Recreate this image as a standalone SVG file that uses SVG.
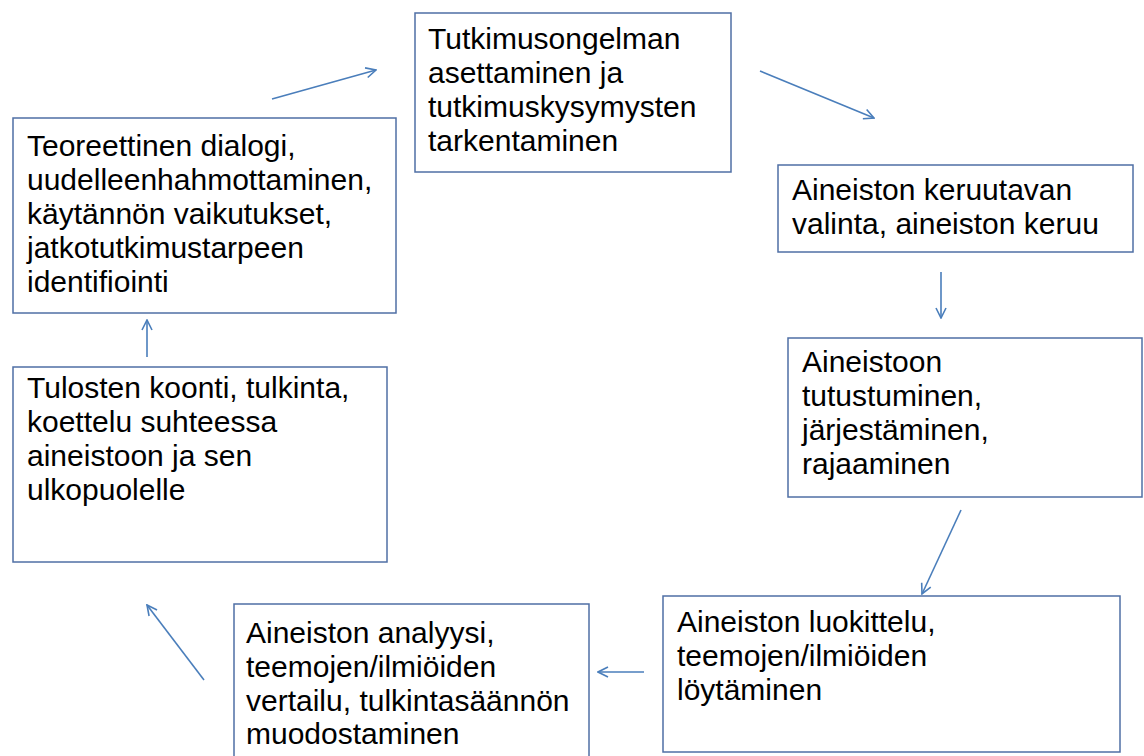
<svg xmlns="http://www.w3.org/2000/svg" width="1144" height="756" viewBox="0 0 1144 756">
<defs>
<style>
.box{fill:#ffffff;stroke:#4F6FA5;stroke-width:1.5}
.t{font-family:"Liberation Sans",Arial,sans-serif;font-size:30px;fill:#000000}
.c{fill:none;stroke:#4A7EBB;stroke-width:1.6}
</style>
<marker id="ah" viewBox="0 0 12 12" refX="11" refY="6" markerWidth="12" markerHeight="12" markerUnits="userSpaceOnUse" orient="auto">
<path d="M1,1 L11,6 L1,11" fill="none" stroke="#4A7EBB" stroke-width="1.6"/>
</marker>
</defs>
<rect width="1144" height="756" fill="#ffffff"/>
<g id="connectors">
<line class="c" x1="272" y1="99" x2="376" y2="70" marker-end="url(#ah)"/>
<line class="c" x1="760" y1="71" x2="874" y2="118" marker-end="url(#ah)"/>
<line class="c" x1="941" y1="272" x2="941" y2="318" marker-end="url(#ah)"/>
<line class="c" x1="961" y1="510" x2="922" y2="594" marker-end="url(#ah)"/>
<line class="c" x1="644" y1="672" x2="598" y2="672" marker-end="url(#ah)"/>
<line class="c" x1="204" y1="680" x2="147" y2="605" marker-end="url(#ah)"/>
<line class="c" x1="147" y1="357" x2="147" y2="320" marker-end="url(#ah)"/>
</g>
<g id="n1">
<rect class="box" x="415" y="13" width="316" height="159"/>
<text class="t" x="428" y="49">Tutkimusongelman</text>
<text class="t" x="428" y="83">asettaminen ja</text>
<text class="t" x="428" y="117">tutkimuskysymysten</text>
<text class="t" x="428" y="151">tarkentaminen</text>
</g>
<g id="n2">
<rect class="box" x="778" y="165" width="355" height="87"/>
<text class="t" x="792" y="200">Aineiston keruutavan</text>
<text class="t" x="792" y="234">valinta, aineiston keruu</text>
</g>
<g id="n3">
<rect class="box" x="788" y="338" width="354" height="159"/>
<text class="t" x="802" y="372">Aineistoon</text>
<text class="t" x="802" y="406">tutustuminen,</text>
<text class="t" x="802" y="440">järjestäminen,</text>
<text class="t" x="802" y="474">rajaaminen</text>
</g>
<g id="n4">
<rect class="box" x="663" y="596" width="457" height="156"/>
<text class="t" x="677" y="632">Aineiston luokittelu,</text>
<text class="t" x="677" y="666">teemojen/ilmiöiden</text>
<text class="t" x="677" y="700">löytäminen</text>
</g>
<g id="n5">
<rect class="box" x="234" y="604" width="355" height="160"/>
<text class="t" x="246" y="643">Aineiston analyysi,</text>
<text class="t" x="246" y="677">teemojen/ilmiöiden</text>
<text class="t" x="246" y="711">vertailu, tulkintasäännön</text>
<text class="t" x="246" y="744">muodostaminen</text>
</g>
<g id="n6">
<rect class="box" x="13" y="367" width="374" height="195"/>
<text class="t" x="27" y="398">Tulosten koonti, tulkinta,</text>
<text class="t" x="27" y="432">koettelu suhteessa</text>
<text class="t" x="27" y="466">aineistoon ja sen</text>
<text class="t" x="27" y="500">ulkopuolelle</text>
</g>
<g id="n7">
<rect class="box" x="13" y="118" width="383" height="195"/>
<text class="t" x="27" y="156">Teoreettinen dialogi,</text>
<text class="t" x="27" y="190">uudelleenhahmottaminen,</text>
<text class="t" x="27" y="224">käytännön vaikutukset,</text>
<text class="t" x="27" y="258">jatkotutkimustarpeen</text>
<text class="t" x="27" y="292">identifiointi</text>
</g>
</svg>
